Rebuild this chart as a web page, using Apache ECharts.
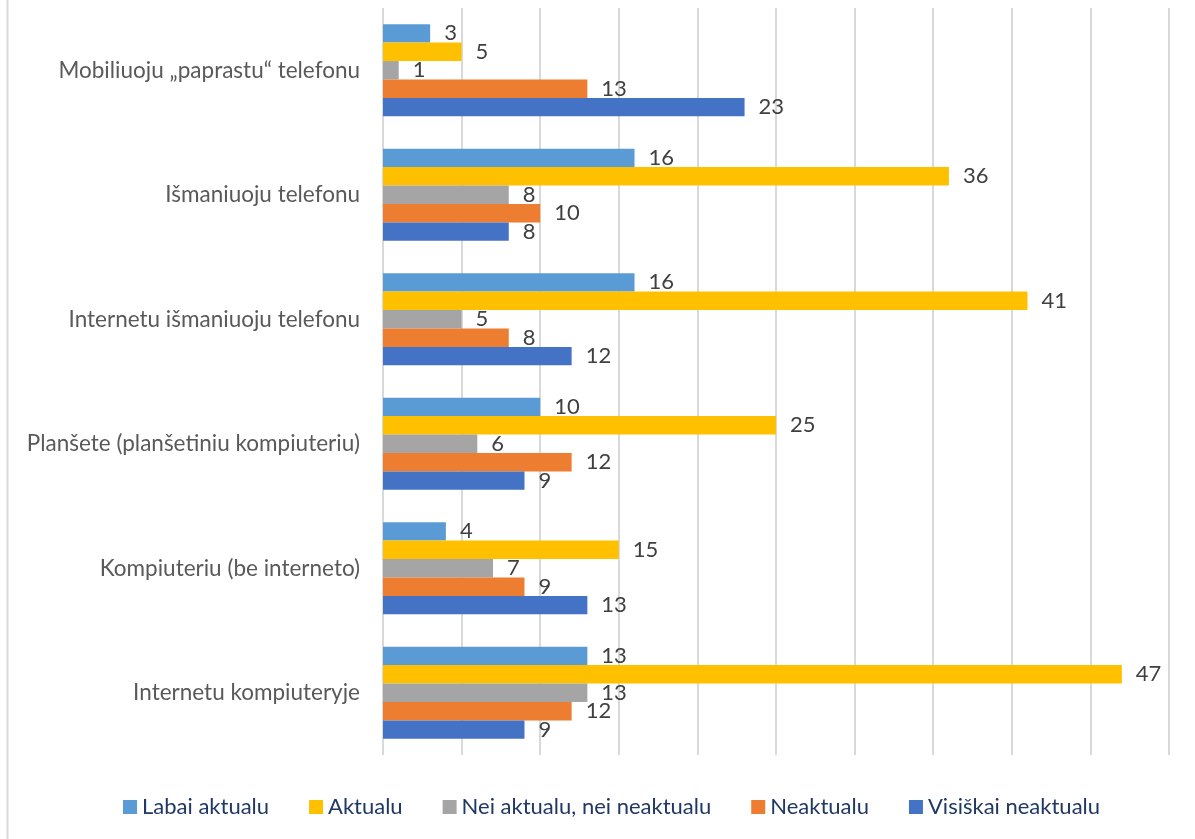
<!DOCTYPE html>
<html>
<head>
<meta charset="utf-8">
<script src="https://cdn.jsdelivr.net/npm/echarts@6/dist/echarts.min.js"></script>
<style>
html, body { margin: 0; padding: 0; background: #fff; }
#chart { width: 1195px; height: 839px; }
</style>
</head>
<body>
<div id="chart"></div>
<script>
// kategorijos (iš viršaus į apačią)
var categories = ['Mobiliuoju „paprastu“ telefonu', 'Išmaniuoju telefonu', 'Internetu išmaniuoju telefonu',
    'Planšete (planšetiniu kompiuteriu)', 'Kompiuteriu (be interneto)', 'Internetu kompiuteryje'];
var seriesNames = ['Labai aktualu', 'Aktualu', 'Nei aktualu, nei neaktualu', 'Neaktualu', 'Visiškai neaktualu'];
var labaiAktualu = [3, 16, 16, 10, 4, 13];
var aktualu = [5, 36, 41, 25, 15, 47];
var neiNei = [1, 8, 5, 6, 7, 13];
var neaktualu = [13, 10, 8, 12, 9, 12];
var visiskaiNeaktualu = [23, 8, 12, 9, 13, 9];
var colors = ['#5B9BD5', '#FFC000', '#A5A5A5', '#ED7D31', '#4472C4'];

var font = 'Lato, "Open Sans", sans-serif';
var allData = [labaiAktualu, aktualu, neiNei, neaktualu, visiskaiNeaktualu];

var myChart = echarts.init(document.getElementById('chart'));
var series = [];
for (var i = 0; i < seriesNames.length; i++) {
    series.push({
        name: seriesNames[i],
        type: 'bar',
        data: allData[i],
        barGap: '0%',
        barCategoryGap: '26%',
        itemStyle: { color: colors[i] },
        label: {
            show: true,
            position: 'right',
            distance: 14,
            color: '#404040',
            fontSize: 22,
            fontFamily: font
        }
    });
}
var Option = {
    animation: false,
    color: colors,
    graphic: [{
        type: 'line',
        shape: { x1: 7.5, y1: 0, x2: 7.5, y2: 839 },
        style: { stroke: '#d9d9d9', lineWidth: 2 }
    }],
    legend: {
        top: 791,
        left: 118,
        itemWidth: 14,
        itemHeight: 14,
        itemGap: 40,
        icon: 'rect',
        textStyle: { color: '#1F3864', fontSize: 22, fontFamily: font },
        data: seriesNames
    },
    grid: {
        top: 8,
        left: 383,
        right: 26,
        bottom: 84,
        containLabel: false
    },
    xAxis: {
        type: 'value',
        min: 0,
        max: 50,
        interval: 5,
        axisLabel: { show: false },
        axisLine: { show: false },
        axisTick: { show: false },
        splitLine: { show: true, lineStyle: { color: '#d9d9d9', width: 2 } }
    },
    yAxis: {
        type: 'category',
        inverse: true,
        data: categories,
        axisLine: { show: false },
        axisTick: { show: false },
        axisLabel: { color: '#595959', fontSize: 22.5, fontFamily: font, margin: 23 }
    },
    series: series
};
myChart.setOption(Option);
</script>
</body>
</html>
